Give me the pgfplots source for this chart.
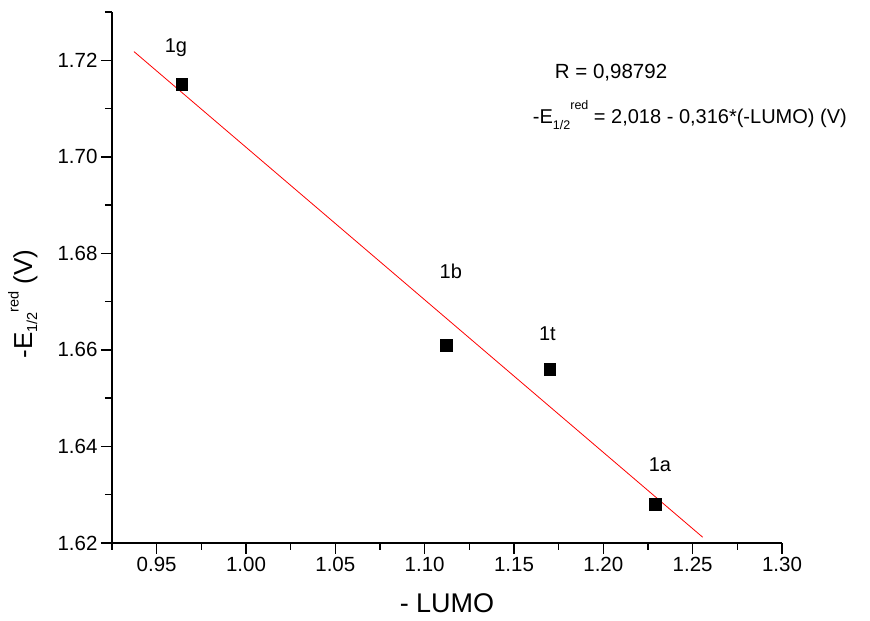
\documentclass[border=0pt]{standalone}
\usepackage{pgfplots}
\pgfplotsset{compat=1.18}
\usepackage{fontspec}
\setmainfont{Liberation Sans}
% -E_{1/2}^{red} with the superscript following the subscript (Origin style)
\newcommand{\Ered}[3]{-E\raisebox{-#2}{\fontsize{#1}{#1}\selectfont 1/2}\raisebox{#3}{\fontsize{#1}{#1}\selectfont red}}
\begin{document}
\begin{tikzpicture}
\begin{axis}[
  scale only axis, width=670pt, height=531pt,
  xmin=0.925, xmax=1.30, ymin=1.62, ymax=1.73,
  axis x line*=bottom, axis y line*=left,
  axis line style={line width=1.5pt, -},
  every tick/.style={black, line width=1.5pt},
  major tick length=11pt, minor tick length=7pt,
  tick align=outside,
  xtick={0.95,1.00,1.05,1.10,1.15,1.20,1.25,1.30},
  minor xtick={0.925,0.975,1.025,1.075,1.125,1.175,1.225,1.275},
  ytick={1.62,1.64,1.66,1.68,1.70,1.72},
  minor ytick={1.63,1.65,1.67,1.69,1.71,1.73},
  /pgf/number format/.cd, fixed, fixed zerofill, precision=2, assume math mode=true,
  /pgfplots/.cd,
  tick label style={font=\fontsize{20.5}{24}\selectfont},
  xlabel={- LUMO},
  ylabel={\Ered{14.5pt}{5pt}{13.5pt} (V)},
  xlabel style={at={(axis description cs:0.5,-0.113)}, anchor=center, font=\fontsize{27}{30}\selectfont},
  ylabel style={at={(axis description cs:-0.133,0.45)}, anchor=center, font=\fontsize{26}{30}\selectfont},
  clip=false,
]
\coordinate (o) at (rel axis cs:0,0);
\addplot[only marks, mark=square*, mark size=5.8pt, black] coordinates {
  (0.964,1.715) (1.112,1.661) (1.170,1.656) (1.229,1.628)
};
\addplot[red, line width=0.8pt] coordinates {(0.9373,1.7218) (1.2556,1.6212)};
\node[anchor=base, font=\fontsize{20}{24}\selectfont] at (axis cs:0.9608,1.7216) {1g};
\node[anchor=base, font=\fontsize{20}{24}\selectfont] at (axis cs:1.1146,1.6748) {1b};
\node[anchor=base, font=\fontsize{20}{24}\selectfont] at (axis cs:1.1687,1.6619) {1t};
\node[anchor=base, font=\fontsize{20}{24}\selectfont] at (axis cs:1.2317,1.63475) {1a};
\node[anchor=base west, inner sep=0pt, font=\fontsize{20.5}{24}\selectfont] at (axis cs:1.1728,1.7162) {R = 0,98792};
\node[anchor=base west, inner sep=0pt, font=\fontsize{20}{24}\selectfont] at (axis cs:1.1605,1.7070) {\Ered{12.5pt}{6pt}{14pt} = 2,018 - 0,316*(-LUMO) (V)};
\end{axis}
\pgfresetboundingbox
\path ([shift={(-112pt,-78pt)}]o) rectangle ++(870pt,621pt);
\end{tikzpicture}
\end{document}
